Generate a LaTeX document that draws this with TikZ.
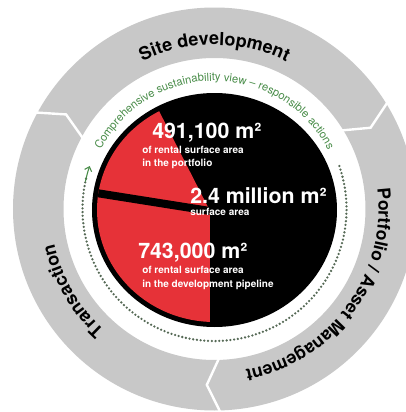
\documentclass[tikz,border=0pt]{standalone}
\usepackage{fontspec}
\setmainfont{TeX Gyre Heros}
\usetikzlibrary{decorations.text,arrows.meta}
\definecolor{ringgray}{RGB}{200,200,200}
\definecolor{piered}{RGB}{230,50,56}
\definecolor{sgreen}{RGB}{72,140,72}
\definecolor{dotgreen}{RGB}{85,105,85}
\tikzset{
  bigval/.style={white, anchor=base west, inner sep=0pt, font=\fontsize{16}{18}\selectfont\bfseries},
  smallval/.style={white, anchor=base west, inner sep=0pt, font=\fontsize{7.5}{9}\selectfont\bfseries},
  seppath/.style={white, line width=1.8pt, line join=miter},
}
\begin{document}
\begin{tikzpicture}[x=0.75pt,y=0.75pt]
\clip (0,0) rectangle (406,412);
\fill[white] (0,0) rectangle (406,412);
\coordinate (C) at (214.5,203);
\coordinate (D) at (214.5,202);
\coordinate (P) at (210,201);
% gray ring
\fill[ringgray, even odd rule] (C) circle[radius=201.5] (C) circle[radius=151];
\foreach \t in {152,32,-88}
  \draw[seppath, shift={(C)}] (\t:148) -- (\t-4.5:176) -- (\t:206);
% ring labels
\path[shift={(C)}, decorate, decoration={text along path, text align=center,
  text={|\fontsize{13.5}{16}\selectfont\bfseries|Site development}}]
  (150:164) arc[start angle=150, end angle=30, radius=164];
\path[shift={(C)}, decorate, decoration={text along path, text align=center,
  text={|\fontsize{13.2}{16}\selectfont\bfseries|Portfolio / Asset Management}}]
  (24:164) arc[start angle=24, end angle=-96, radius=164];
\path[shift={(C)}, decorate, decoration={text along path, text align=center,
  text={|\fontsize{13.5}{16}\selectfont\bfseries|Transaction}}]
  (265:164) arc[start angle=265, end angle=155, radius=164];
% dotted arc with arrow
\draw[dotgreen, line width=1.9pt, line cap=round, dash pattern=on 0pt off 2.8pt, shift={(C)}]
  (19:132) arc[start angle=19, end angle=-194, radius=132];
\draw[sgreen, line width=0.8pt, -{Straight Barb[length=3pt,width=5.5pt]}, shift={(C)}]
  (-192:132) arc[start angle=-192, end angle=-199, radius=132];
% green arc text
\path[shift={(C)}, decorate, decoration={text along path, text align=center,
  text={|\fontsize{8.4}{10}\selectfont\color{sgreen}|Comprehensive sustainability view – responsible actions}}]
  (165:128) arc[start angle=165, end angle=15, radius=128];
% black disc
\fill[black] (D) ellipse[x radius=122.5, y radius=117];
\begin{scope}
  \clip (D) ellipse[x radius=117.5, y radius=112];
  \fill[piered, shift={(P)}] (0,0) -- (117:300) -- (180:300) -- (225:300) -- (270:300) -- cycle;
  \draw[black, line width=6pt] (P) -- ++(171:200);
\end{scope}
% values
\node[bigval] (v1) at (152,274) {491,100 m²};
\node[smallval] (v1a) at (142,259) {of rental surface area};
\node[smallval] (v1b) at (142,246) {in the portfolio};
\node[bigval] (v2) at (190,209) {2.4 million m²};
\node[smallval] (v2a) at (190,196) {surface area};
\node[bigval] (v3) at (138,154) {743,000 m²};
\node[smallval] (v3a) at (142,139) {of rental surface area};
\node[smallval] (v3b) at (142,125) {in the development pipeline};
\end{tikzpicture}
\end{document}
